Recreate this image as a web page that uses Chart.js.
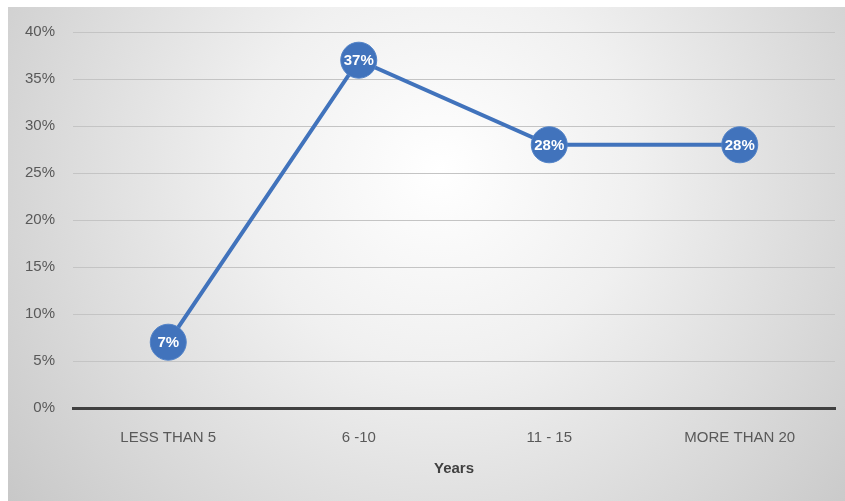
<!DOCTYPE html>
<html>
<head>
<meta charset="utf-8">
<script src="https://cdn.jsdelivr.net/npm/chart.js@4"></script>
<style>
  html, body { margin: 0; padding: 0; background: #ffffff; }
  #wrap { width: 845px; height: 501px; position: relative; }
</style>
</head>
<body>
<div id="wrap"><canvas id="c" width="845" height="501"></canvas></div>
<script>
// Share of respondents by years of experience
const categories = ['LESS THAN 5', '6 -10', '11 - 15', 'MORE THAN 20'];
const shares = [7, 37, 28, 28];
const yTicks = [0, 5, 10, 15, 20, 25, 30, 35, 40];

const LINE_BLUE = '#4173bc';
const FONT = "'Liberation Sans', 'DejaVu Sans', sans-serif";

// Soft radial backdrop behind the whole chart
const backdrop = {
  id: 'backdrop',
  beforeDraw(chart) {
    const ctx = chart.ctx;
    const w = chart.width, h = chart.height;
    ctx.save();
    ctx.fillStyle = '#ffffff';
    ctx.fillRect(0, 0, w, h);
    const g = ctx.createRadialGradient(440, 170, 0, 440, 170, 560);
    g.addColorStop(0, '#ffffff');
    g.addColorStop(0.35, '#f0f0f0');
    g.addColorStop(1, '#c6c6c6');
    ctx.fillStyle = g;
    ctx.fillRect(8, 7, w - 8, h - 7);
    ctx.restore();
  }
};

// Percentage text inside each marker
const pointLabels = {
  id: 'pointLabels',
  afterDatasetsDraw(chart) {
    const ctx = chart.ctx;
    const meta = chart.getDatasetMeta(0);
    ctx.save();
    ctx.fillStyle = '#ffffff';
    ctx.font = "bold 15px " + FONT;
    ctx.textAlign = 'center';
    ctx.textBaseline = 'middle';
    meta.data.forEach((pt, i) => {
      ctx.fillText(shares[i] + '%', pt.x, pt.y + 1);
    });
    ctx.restore();
  }
};

new Chart(document.getElementById('c'), {
  type: 'line',
  data: {
    labels: categories,
    datasets: [{
      data: shares,
      borderColor: LINE_BLUE,
      borderWidth: 4,
      backgroundColor: LINE_BLUE,
      pointBackgroundColor: LINE_BLUE,
      pointBorderColor: '#5283c8',
      pointBorderWidth: 1,
      pointRadius: 18,
      pointHoverRadius: 18,
      tension: 0,
      fill: false
    }]
  },
  options: {
    responsive: false,
    animation: false,
    events: [],
    layout: { autoPadding: false, padding: { top: 32, right: 10, left: 0, bottom: 0 } },
    plugins: {
      legend: { display: false },
      tooltip: { enabled: false }
    },
    scales: {
      x: {
        offset: true,
        afterFit(scale) { scale.height = 93; },
        grid: { display: false, drawTicks: false },
        border: { display: true, color: '#404040', width: 3 },
        ticks: {
          color: '#595959',
          padding: 21,
          font: { family: FONT, size: 15 }
        },
        title: {
          display: true,
          text: 'Years',
          color: '#404040',
          padding: { top: 0, bottom: 23 },
          font: { family: FONT, size: 15, weight: 'bold' }
        }
      },
      y: {
        min: 0,
        max: 40,
        afterBuildTicks(scale) {
          scale.ticks = yTicks.map(v => ({ value: v }));
        },
        afterFit(scale) { scale.width = 73; },
        grid: {
          drawTicks: false,
          lineWidth: 1,
          color: ctx => ctx.tick && ctx.tick.value === 0 ? 'rgba(0,0,0,0)' : '#c4c4c4'
        },
        border: { display: false },
        ticks: {
          color: '#595959',
          padding: 18,
          font: { family: FONT, size: 15 },
          callback: v => v + '%'
        }
      }
    }
  },
  plugins: [backdrop, pointLabels]
});
</script>
</body>
</html>
